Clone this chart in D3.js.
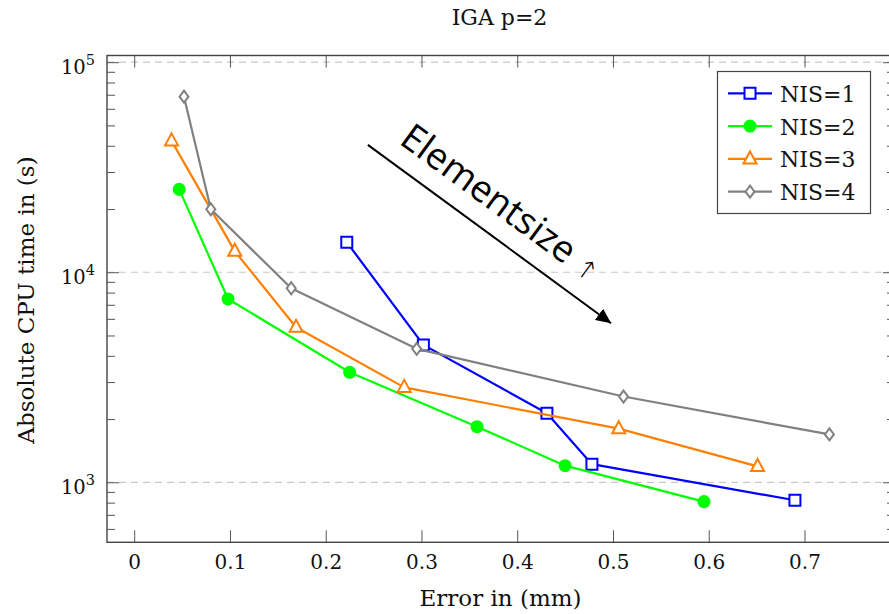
<!DOCTYPE html>
<html><head><meta charset="utf-8">
<script src="https://cdn.jsdelivr.net/npm/d3@7"></script>
<style>body{margin:0;background:#fff} svg{display:block}</style>
</head><body><svg id="c" width="889" height="614"></svg>
<script>
const titleText = "IGA p=2";
const xLabel = "Error in (mm)";
const yLabel = "Absolute CPU time in (s)";
const seriesNames = ["NIS=1", "NIS=2", "NIS=3", "NIS=4"];
const nis1Error = [0.222, 0.302, 0.431, 0.478, 0.690];
const nis1Time  = [13900, 4510, 2130, 1220, 821];
const nis2Error = [0.047, 0.098, 0.225, 0.358, 0.450, 0.595];
const nis2Time  = [24800, 7460, 3340, 1840, 1200, 809];
const nis3Error = [0.039, 0.105, 0.169, 0.282, 0.506, 0.651];
const nis3Time  = [42200, 12600, 5470, 2830, 1800, 1190];
const nis4Error = [0.052, 0.080, 0.164, 0.295, 0.511, 0.726];
const nis4Time  = [68500, 19950, 8390, 4320, 2560, 1690];
const xTicks = [0, 0.1, 0.2, 0.3, 0.4, 0.5, 0.6, 0.7];
const yTicks = [1e3, 1e4, 1e5];
const yExponents = ["3", "4", "5"];
const annotationWord = "Elementsize";
const annotationArrow = "\u2191";
const arrowStart = [0.244, 40400];
const arrowEnd = [0.498, 5720];
const annotationAnchor = [0.2755, 41300];

const colors = ["#0000ff", "#00ff00", "#ff7f00", "#808080"];
const markers = ["square", "circle", "triangle", "diamond"];
const series = [
  {name: seriesNames[0], xs: nis1Error, ys: nis1Time},
  {name: seriesNames[1], xs: nis2Error, ys: nis2Time},
  {name: seriesNames[2], xs: nis3Error, ys: nis3Time},
  {name: seriesNames[3], xs: nis4Error, ys: nis4Time}
].map((s, i) => ({...s, color: colors[i], marker: markers[i],
  pts: s.xs.map((x, j) => [x, s.ys[j]])}));

const L = 107, R = 895, T = 55.5, B = 542.3;
const svg = d3.select("#c");
const x = d3.scaleLinear().domain([-0.0284, 0.7945]).range([L, R]);
const y = d3.scaleLog().domain([518, 107600]).range([B, T]);

const serif = "'DejaVu Serif', serif";
const tickColor = "#555";

// grid
svg.append("g").selectAll("line").data(yTicks).join("line")
  .attr("x1", L).attr("x2", R).attr("y1", d => y(d)).attr("y2", d => y(d))
  .attr("stroke", "#c8c8c8").attr("stroke-width", 1.2).attr("stroke-dasharray", "7,5");

// minor y ticks
const minor = [];
[100, 1000, 10000].forEach(b => { for (let k = 2; k <= 9; k++) { const v = b * k; if (v > 518 && v < 107600) minor.push(v); } });

function styleAxis(g) {
  g.select(".domain").remove();
  g.selectAll(".tick line").attr("stroke", tickColor).attr("stroke-width", 1);
}
svg.append("g").attr("transform", `translate(${L},0)`)
  .call(d3.axisLeft(y).tickValues(minor).tickSize(-8).tickFormat(""))
  .call(styleAxis);
svg.append("g").attr("transform", `translate(${R},0)`)
  .call(d3.axisRight(y).tickValues(minor).tickSize(-8).tickFormat(""))
  .call(styleAxis);
svg.append("g").attr("transform", `translate(${L},0)`)
  .call(d3.axisLeft(y).tickValues(yTicks).tickSize(-12).tickFormat(""))
  .call(styleAxis);
svg.append("g").attr("transform", `translate(${R},0)`)
  .call(d3.axisRight(y).tickValues(yTicks).tickSize(-12).tickFormat(""))
  .call(styleAxis);

// x axes
const xAx = svg.append("g").attr("transform", `translate(0,${B})`)
  .call(d3.axisBottom(x).tickValues(xTicks).tickSize(-12).tickPadding(13)
    .tickFormat(d => d === 0 ? "0" : d3.format(".1f")(d)))
  .call(styleAxis);
xAx.selectAll(".tick text").attr("font-family", serif).attr("font-size", 20).attr("fill", "#111");
svg.append("g").attr("transform", `translate(0,${T})`)
  .call(d3.axisTop(x).tickValues(xTicks).tickSize(-12).tickFormat(""))
  .call(styleAxis);

// y tick labels
const yl = svg.append("g").selectAll("text").data(yTicks).join("text")
  .attr("x", 95).attr("y", d => y(d) + 11.5)
  .attr("text-anchor", "end").attr("font-family", serif).attr("fill", "#111");
yl.append("tspan").attr("font-size", 19.5).text("10");
yl.append("tspan").attr("font-size", 14.5).attr("dy", -9).text((d, i) => yExponents[i]);

// frame
svg.append("rect").attr("x", L).attr("y", T).attr("width", R - L).attr("height", B - T)
  .attr("fill", "none").attr("stroke", "#444").attr("stroke-width", 1.4);

// marker paths
function markerPath(type) {
  if (type === "square") return "M-5.5,-5.5H5.5V5.5H-5.5Z";
  if (type === "circle") return d3.symbol(d3.symbolCircle, 133)();
  if (type === "triangle") return "M0,-7.5L6.5,4.5H-6.5Z";
  return "M0,-6L4.5,0L0,6L-4.5,0Z";
}

const line = d3.line().x(d => x(d[0])).y(d => y(d[1]));
series.forEach(s => {
  const g = svg.append("g");
  g.append("path").attr("d", line(s.pts)).attr("fill", "none")
    .attr("stroke", s.color).attr("stroke-width", 2.2).attr("stroke-linejoin", "round");
  g.selectAll("path.m").data(s.pts).join("path").attr("class", "m")
    .attr("d", markerPath(s.marker))
    .attr("transform", d => `translate(${x(d[0])},${y(d[1])})`)
    .attr("fill", s.marker === "circle" ? s.color : "#fff")
    .attr("stroke", s.color).attr("stroke-width", s.marker === "circle" ? 0 : 2);
});

// annotation arrow
const defs = svg.append("defs");
defs.append("marker").attr("id", "ah").attr("markerUnits", "userSpaceOnUse")
  .attr("markerWidth", 16).attr("markerHeight", 14).attr("refX", 15).attr("refY", 7)
  .attr("orient", "auto")
  .append("path").attr("d", "M0,0L15,7L0,14Z").attr("fill", "#000");
const ax0 = x(arrowStart[0]), ay0 = y(arrowStart[1]), ax1 = x(arrowEnd[0]), ay1 = y(arrowEnd[1]);
svg.append("line").attr("x1", ax0).attr("y1", ay0).attr("x2", ax1).attr("y2", ay1)
  .attr("stroke", "#000").attr("stroke-width", 2).attr("marker-end", "url(#ah)");
const ang = Math.atan2(ay1 - ay0, ax1 - ax0) * 180 / Math.PI;
const at = svg.append("text")
  .attr("transform", `translate(${x(annotationAnchor[0])},${y(annotationAnchor[1])}) rotate(${ang})`)
  .attr("font-family", "'Open Sans', sans-serif").attr("font-size", 37).attr("fill", "#000");
at.append("tspan").text(annotationWord + " ");
at.append("tspan").attr("font-family", "'DejaVu Sans', sans-serif").attr("font-size", 26)
  .attr("font-weight", 300).text(annotationArrow);

// legend
const lg = svg.append("g");
lg.append("rect").attr("x", 717.5).attr("y", 71.5).attr("width", 153).attr("height", 142)
  .attr("fill", "#fff").attr("stroke", "#444").attr("stroke-width", 1.2);
const rowY = i => 93.3 + i * 32.8;
series.forEach((s, i) => {
  const cy = rowY(i);
  lg.append("line").attr("x1", 728).attr("x2", 772).attr("y1", cy).attr("y2", cy)
    .attr("stroke", s.color).attr("stroke-width", 2.2);
  lg.append("path").attr("d", markerPath(s.marker)).attr("transform", `translate(750,${cy})`)
    .attr("fill", s.marker === "circle" ? s.color : "#fff")
    .attr("stroke", s.color).attr("stroke-width", s.marker === "circle" ? 0 : 2);
  lg.append("text").attr("x", 780).attr("y", cy + 8.5).attr("font-family", serif)
    .attr("font-size", 22).attr("fill", "#111").text(s.name);
});

// titles
svg.append("text").attr("x", 499.5).attr("y", 25).attr("text-anchor", "middle")
  .attr("font-family", serif).attr("font-size", 22).attr("fill", "#111").text(titleText);
svg.append("text").attr("x", 500.5).attr("y", 606).attr("text-anchor", "middle")
  .attr("font-family", serif).attr("font-size", 23).attr("fill", "#111").text(xLabel);
svg.append("text").attr("transform", "translate(34,300) rotate(-90)").attr("text-anchor", "middle")
  .attr("font-family", serif).attr("font-size", 23).attr("fill", "#111").text(yLabel);
</script>
</body></html>
